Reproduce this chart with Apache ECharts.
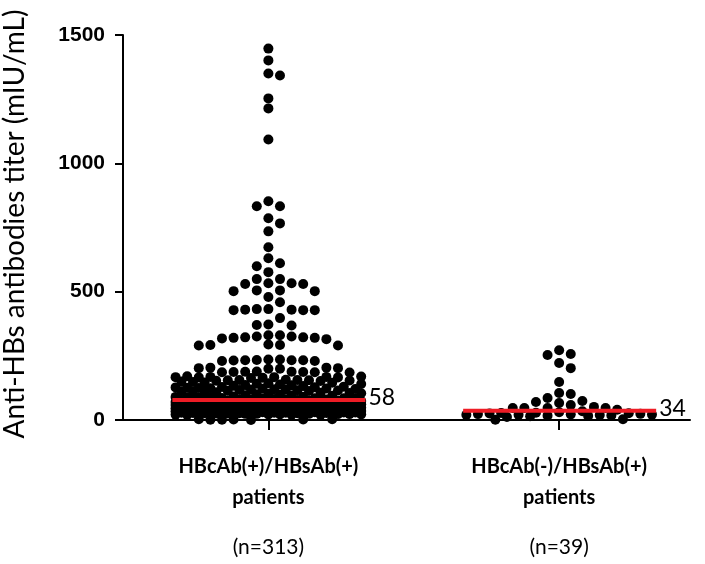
<!DOCTYPE html>
<html><head><meta charset="utf-8">
<script src="https://cdn.jsdelivr.net/npm/echarts@6/dist/echarts.min.js"></script>
<style>html,body{margin:0;padding:0;background:#fff}#c{width:705px;height:564px}</style>
</head><body><div id="c"></div>
<script>
const categories = ['HBcAb(+)/HBsAb(+)', 'HBcAb(-)/HBsAb(+)'];
const groupSizes = ['(n=313)', '(n=39)'];
const yTicks = [0, 500, 1000, 1500];
const medianLabels = [58, 34];
const medianLineValues = [78, 36];

const group1 = [
  1447,1401,1350,1342,1253,1214,1093,
  852,833,833,786,766,735,673,
  630,611,599,576,
  549,533,530,530,533,549,
  505,502,502,505,479,459,
  432,430,428,428,430,432,428,397,
  372,368,370,
  330,325,322,320,318,320,322,325,330,315,
  292,290,292,294,290,
  236,233,230,233,236,232,234,230,233,
  204,202,200,202,204,200,
  188,186,187,189,185,188,186,187,
  168,166,167,169,165,168,167,166,164,170,
  156,154,155,157,153,156,155,152,
  150,148,146,145,143,141,140,138,136,135,
  133,132,130,129,128,127,126,125,124,123,
  122,121,120,119,118,117,116,115,114,113,
  112,110,108,106,104,102,100,98,96,94,
  92,90,89,88,87,86,85,84,83,82,
  111,105,95,91,85,
  81,80,80,79,78,
  77,77,76,76,75,75,74,74,73,73,
  72,72,71,71,70,70,69,69,68,68,
  67,67,66,66,65,65,64,64,63,63,
  62,62,61,61,60,60,59,59,58,58,
  57,57,56,56,55,55,54,54,53,53,
  52,52,51,51,50,50,49,49,48,48,
  47,47,46,46,45,45,44,44,43,43,
  42,42,41,41,40,40,39,39,38,38,
  37,37,36,36,35,35,34,34,33,33,
  32,32,31,31,30,30,29,29,28,28,
  27,27,26,26,25,25,24,24,23,23,
  22,22,21,21,20,20,76,74,72,70,
  68,66,64,62,60,58,56,54,52,50,
  48,46,44,42,40,38,36,34,32,30,
  28,26,24,22,75,65,55,45,35,
  3,3,2,2,1,1,0
];

const group2 = [
  272,257,253,222,202,148,105,101,86,74,70,66,58,51,47,47,47,47,
  40,34,30,28,27,26,25,24,23,22,21,20,20,19,18,17,16,15,12,3,1
];

const chart = echarts.init(document.getElementById('c'), null, {renderer: 'canvas'});

chart.setOption({
  animation: false,
  backgroundColor: '#fff',
  grid: {left: 123, right: 15, top: 35, bottom: 144, containLabel: false, outerBoundsMode: 'none'},
  xAxis: {
    type: 'value', min: 0.5, max: 2.45,
    splitLine: {show: false},
    axisLine: {show: true, onZero: false, lineStyle: {color: '#000', width: 2}},
    axisTick: {show: true, customValues: [1, 2], length: 10, lineStyle: {color: '#000', width: 2}},
    axisLabel: {
      show: true, customValues: [1, 2], margin: 31,
      formatter: function (v) {
        const i = Math.round(v) - 1;
        if (i < 0 || i >= categories.length) return '';
        return '{b|' + categories[i] + '}\n{b|patients}\n{n|' + groupSizes[i] + '}';
      },
      rich: {
        b: {fontFamily: 'Lato', fontWeight: 'bold', fontSize: 20, lineHeight: 31, color: '#000'},
        n: {fontFamily: 'Lato', fontSize: 21, lineHeight: 69, color: '#000'}
      }
    }
  },
  yAxis: {
    type: 'value', min: yTicks[0], max: yTicks[yTicks.length - 1], interval: 500,
    splitLine: {show: false},
    name: 'Anti-HBs antibodies titer (mIU/mL)',
    nameLocation: 'middle', nameGap: 94, nameRotate: 90,
    nameTextStyle: {fontFamily: 'Lato', fontSize: 28, color: '#000', padding: [0, 0, 0, 7]},
    axisLine: {show: true, lineStyle: {color: '#000', width: 2}},
    axisTick: {show: true, length: 8, lineStyle: {color: '#000', width: 2}},
    axisLabel: {margin: 18, fontFamily: 'Liberation Sans', fontWeight: 'bold', fontSize: 21, color: '#000',
      formatter: function (v) { return String(v); }}
  },
  series: []
});

// Prism-style layout: points sit on fixed columns around the group centre;
// when every column is occupied, they go to the least crowded half-column spot.
function columns(values, center) {
  const S = 11.6, D = 9, K = 8;
  const cx = chart.convertToPixel({gridIndex: 0}, [center, 0])[0];
  const pts = values.map(v => ({v: v, py: chart.convertToPixel({gridIndex: 0}, [center, v])[1]}));
  const order = pts.slice().sort((a, b) => b.v - a.v);
  const placed = [];
  const cands = [0];
  for (let k = 1; k <= K; k++) cands.push(k, -k);
  const halfCands = [];
  for (let j = -2 * K; j <= 2 * K; j++) halfCands.push(j / 2);
  function minDist(px, py) {
    let m = Infinity;
    for (const q of placed) {
      const dx = q.px - px, dy = q.py - py;
      const d = Math.sqrt(dx * dx + dy * dy);
      if (d < m) m = d;
    }
    return m;
  }
  order.forEach(p => {
    let chosen = null;
    for (const k of cands) {
      if (minDist(cx + k * S, p.py) >= D) { chosen = cx + k * S; break; }
    }
    if (chosen === null) {
      let bestScore = -1;
      for (const k of halfCands) {
        const px = cx + k * S;
        const m = minDist(px, p.py);
        if (m > bestScore + 0.01) { bestScore = m; chosen = px; }
      }
    }
    p.px = chosen;
    placed.push(p);
  });
  return order.map(p => [chart.convertFromPixel({gridIndex: 0}, [p.px, p.py])[0], p.v]);
}

const medianData = categories.map((c, i) => [i + 1, medianLineValues[i], medianLabels[i]]);

chart.setOption({
  series: [
    {type: 'scatter', data: columns(group1, 1), symbol: 'circle', symbolSize: 10, clip: false,
     itemStyle: {color: '#000', opacity: 1}, z: 3},
    {type: 'scatter', data: columns(group2, 2), symbol: 'circle', symbolSize: 10, clip: false,
     itemStyle: {color: '#000', opacity: 1}, z: 3},
    {type: 'custom', data: medianData, z: 5, clip: false,
     renderItem: function (params, api) {
       const p = api.coord([api.value(0), api.value(1)]);
       return {
         type: 'group',
         children: [
           {type: 'line', shape: {x1: p[0] - 96, y1: p[1], x2: p[0] + 97, y2: p[1]},
            style: {stroke: '#ee1c25', lineWidth: 4}},
           {type: 'text', style: {text: String(api.value(2)), x: p[0] + 100, y: p[1] - 2,
            fill: '#000', fontSize: 23, fontFamily: 'Lato', align: 'left', verticalAlign: 'middle'}}
         ]
       };
     }}
  ]
});
</script>
</body></html>
